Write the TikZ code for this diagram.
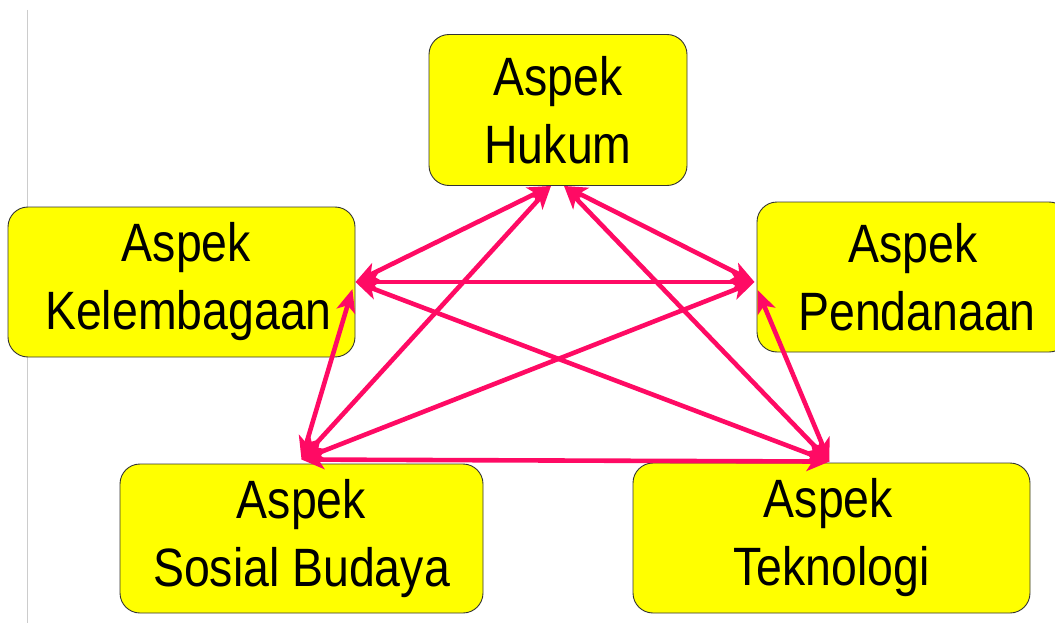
\documentclass[tikz,border=0pt]{standalone}
\usepackage{fontspec}
\newfontfamily\boxfont[FakeStretch=0.86]{Liberation Sans}
\usetikzlibrary{arrows.meta}

\definecolor{boxyellow}{HTML}{FFFF00}
\definecolor{linkpink}{HTML}{FF0A64}

\tikzset{
    aspect/.style={draw=black!80,line width=0.9pt,fill=boxyellow,
        rounded corners=20pt,inner sep=0pt,align=center,
        font=\boxfont\fontsize{54}{68}\selectfont},
    link/.style={linkpink,line width=4.6pt,
        {Stealth[length=23pt,width=19pt,inset=6pt]}-{Stealth[length=23pt,width=19pt,inset=6pt]}}
}

\begin{document}
\begin{tikzpicture}[x=1pt,y=-1pt]
        \useasboundingbox (0,0) rectangle (1055,623);
        \draw[black!20,line width=0.8pt] (27,10) -- (27,623);

        % the five aspects
        \node[aspect,minimum width=258pt,minimum height=151pt] (hukum) at (558,110) {Aspek\\Hukum};
        \node[aspect,minimum width=347pt,minimum height=150pt] (kel) at (181.5,282) {\hspace*{10pt}Aspek\\\hspace*{14pt}Kelembagaan};
        \node[aspect,minimum width=312pt,minimum height=150pt] (pen) at (913,277) {Aspek\\\hspace*{8pt}Pendanaan};
        \node[aspect,minimum width=363pt,minimum height=149pt] (sos) at (301.5,538.5) {Aspek\\Sosial Budaya};
        \node[aspect,minimum width=397pt,minimum height=150pt] (tek) at (831.5,538) {Aspek\hspace*{6pt}\\Teknologi};

        % arrow ends
        \coordinate (hL) at ([xshift=-7pt]hukum.south);
        \coordinate (hR) at ([xshift=6pt]hukum.south);
        \coordinate (kE) at (kel.east);
        \coordinate (kS) at ([xshift=-3pt,yshift=-7pt]kel.east);
        \coordinate (pW) at ([xshift=-2pt,yshift=-5pt]pen.west);
        \coordinate (pT) at ([xshift=1pt,yshift=-13pt]pen.west);
        \coordinate (sN) at ([yshift=4pt]sos.north);
        \coordinate (tN) at ([xshift=-2pt,yshift=1pt]tek.north);

        \draw[link] (kE) -- (hL);
        \draw[link] (sN) -- (hL);
        \draw[link] (pW) -- (hR);
        \draw[link] (tN) -- (hR);
        \draw[link] (kE) -- (pW);
        \draw[link] (kE) -- (tN);
        \draw[link] (pW) -- (sN);
        \draw[link] (sN) -- (tN);
        \draw[link] (sN) -- (kS);
        \draw[link] (tN) -- (pT);

    \end{tikzpicture}
\end{document}
